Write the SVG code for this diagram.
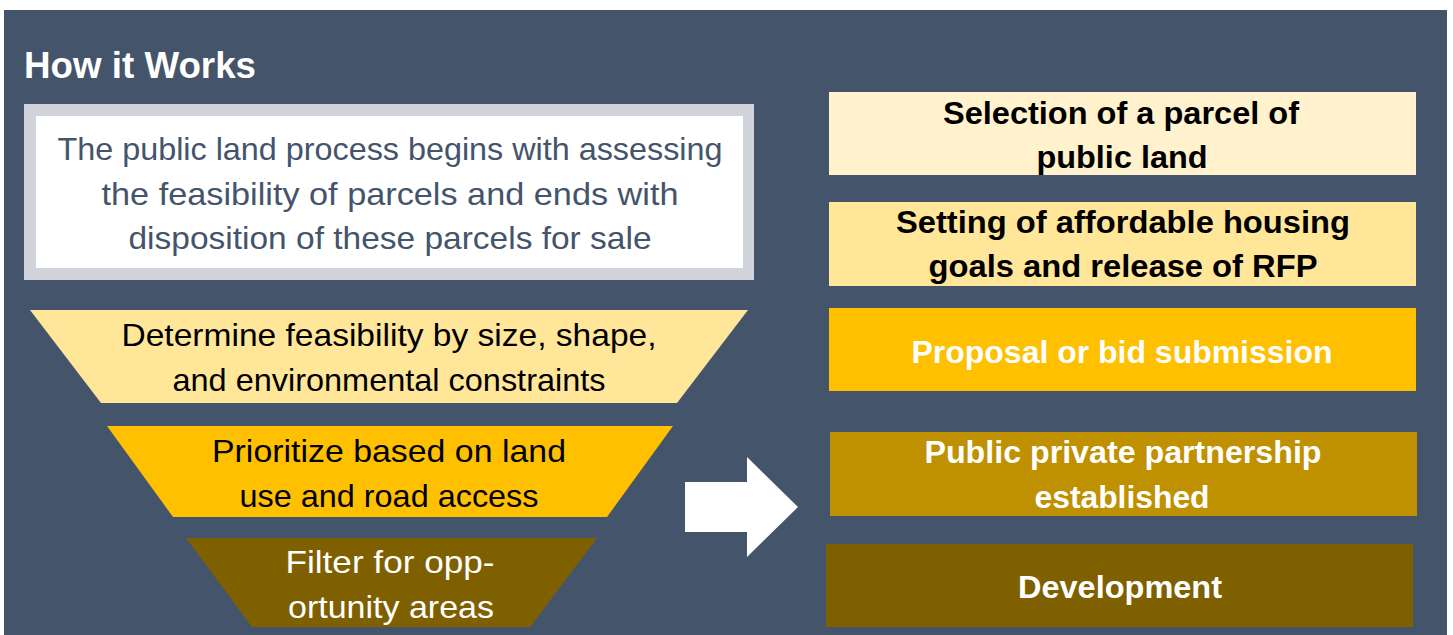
<svg xmlns="http://www.w3.org/2000/svg" width="1453" height="635" viewBox="0 0 1453 635">
<style>
.t{font-family:"Liberation Sans",Arial,sans-serif;font-size:32px;text-anchor:middle}
.b{font-weight:bold}
.dk{fill:#000}
.wh{fill:#fff}
.sl{fill:#44546A}
</style>
<rect x="0" y="0" width="1453" height="635" fill="#fff"/>
<rect x="4" y="10" width="1443" height="625" fill="#44546A"/>
<text x="24" y="78" font-family="Liberation Sans,Arial,sans-serif" font-size="36" font-weight="bold" fill="#fff" textLength="232" lengthAdjust="spacingAndGlyphs">How it Works</text>
<g id="intro">
<rect x="24" y="104" width="730" height="176" fill="#D0D4DA"/>
<rect x="36" y="116" width="707" height="152" fill="#fff"/>
<text class="t sl" x="390" y="160" textLength="665" lengthAdjust="spacingAndGlyphs">The public land process begins with assessing</text>
<text class="t sl" x="390" y="205" textLength="577" lengthAdjust="spacingAndGlyphs">the feasibility of parcels and ends with</text>
<text class="t sl" x="390" y="249" textLength="523" lengthAdjust="spacingAndGlyphs">disposition of these parcels for sale</text>
</g>
<g id="funnel1">
<polygon points="30,310 748,310 677,403 101,403" fill="#FFE699"/>
<text class="t dk" x="389" y="346" textLength="535" lengthAdjust="spacingAndGlyphs">Determine feasibility by size, shape,</text>
<text class="t dk" x="389" y="391" textLength="433" lengthAdjust="spacingAndGlyphs">and environmental constraints</text>
</g>
<g id="funnel2">
<polygon points="107,426 673,426 607,517 173,517" fill="#FFC000"/>
<text class="t dk" x="389" y="462" textLength="354" lengthAdjust="spacingAndGlyphs">Prioritize based on land</text>
<text class="t dk" x="389" y="507" textLength="299" lengthAdjust="spacingAndGlyphs">use and road access</text>
</g>
<g id="funnel3">
<polygon points="186,538 597,538 530,627 252,627" fill="#7F6000"/>
<text class="t wh" x="390" y="573" textLength="209" lengthAdjust="spacingAndGlyphs">Filter for opp-</text>
<text class="t wh" x="391" y="618" textLength="206" lengthAdjust="spacingAndGlyphs">ortunity areas</text>
</g>
<g id="connectors">
<polygon points="685,482 747,482 747,457 798,507 747,557 747,532 685,532" fill="#fff"/>
</g>
<g id="step1">
<rect x="829" y="92" width="587" height="83" fill="#FFF2CC"/>
<text class="t b dk" x="1121" y="124" textLength="356" lengthAdjust="spacingAndGlyphs">Selection of a parcel of</text>
<text class="t b dk" x="1122" y="168" textLength="171" lengthAdjust="spacingAndGlyphs">public land</text>
</g>
<g id="step2">
<rect x="829" y="202" width="587" height="84" fill="#FFE699"/>
<text class="t b dk" x="1123" y="233" textLength="454" lengthAdjust="spacingAndGlyphs">Setting of affordable housing</text>
<text class="t b dk" x="1123" y="277" textLength="389" lengthAdjust="spacingAndGlyphs">goals and release of RFP</text>
</g>
<g id="step3">
<rect x="829" y="308" width="587" height="83" fill="#FFC000"/>
<text class="t b wh" x="1122" y="363" textLength="421" lengthAdjust="spacingAndGlyphs">Proposal or bid submission</text>
</g>
<g id="step4">
<rect x="830" y="432" width="587" height="84" fill="#BF9000"/>
<text class="t b wh" x="1123" y="463" textLength="397" lengthAdjust="spacingAndGlyphs">Public private partnership</text>
<text class="t b wh" x="1122" y="508" textLength="175" lengthAdjust="spacingAndGlyphs">established</text>
</g>
<g id="step5">
<rect x="826" y="544" width="587" height="83" fill="#7F6000"/>
<text class="t b wh" x="1120" y="598" textLength="204" lengthAdjust="spacingAndGlyphs">Development</text>
</g>
</svg>
